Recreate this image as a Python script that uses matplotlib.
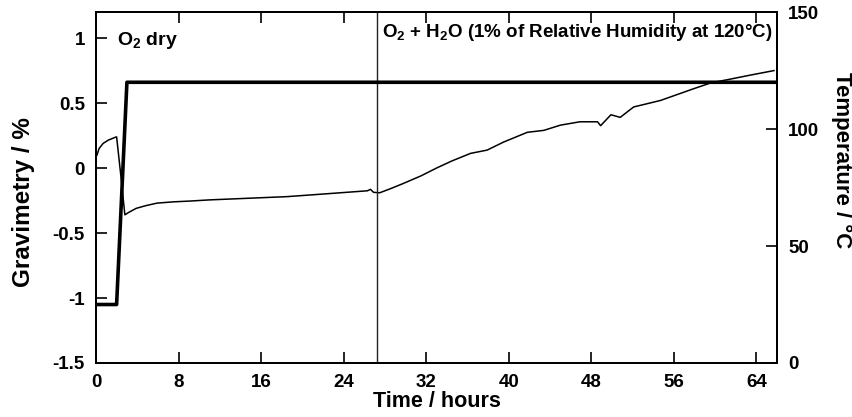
import matplotlib
matplotlib.use('Agg')
import matplotlib.pyplot as plt

plt.rcParams['font.family'] = ['Liberation Sans', 'DejaVu Sans']
plt.rcParams['font.weight'] = 'bold'
plt.rcParams['mathtext.fontset'] = 'custom'
plt.rcParams['mathtext.rm'] = 'Liberation Sans:bold'
plt.rcParams['mathtext.it'] = 'Liberation Sans:bold'
plt.rcParams['mathtext.bf'] = 'Liberation Sans:bold'
plt.rcParams['mathtext.default'] = 'rm'

# gravimetry curve (thin line)
time_g = [0.1, 0.3, 0.7, 1.2, 1.85, 2.0, 2.4, 2.8, 3.2, 3.9, 4.8, 5.9, 7.5, 9.1, 11.0,
          14.0, 18.5, 22.0, 26.3, 26.6, 26.9, 27.5, 28.5, 29.8, 31.5, 33.0, 34.5,
          36.3, 37.9, 39.5, 41.8, 43.4, 45.0, 46.9, 48.6, 48.9, 49.9, 50.8, 52.1,
          54.7, 57.9, 59.6, 61.2, 63.4, 65.7]
grav = [0.10, 0.15, 0.19, 0.215, 0.236, 0.24, -0.05, -0.36, -0.34, -0.31, -0.29, -0.27,
        -0.26, -0.254, -0.245, -0.235, -0.22, -0.20, -0.175, -0.164, -0.187, -0.19,
        -0.16, -0.118, -0.06, 0.0, 0.055, 0.113, 0.138, 0.20, 0.275, 0.29, 0.33,
        0.356, 0.356, 0.326, 0.41, 0.39, 0.47, 0.52, 0.61, 0.656, 0.68, 0.715, 0.75]

# temperature program (thick line)
time_T = [0, 2.0, 3.0, 66]
temp = [25, 25, 120, 120]

switch_time = 27.25

fig = plt.figure(figsize=(8.53, 4.17), dpi=100)
ax = fig.add_axes([0.1125, 0.1295, 0.7985, 0.8415])
ax2 = ax.twinx()

ax.plot(time_g, grav, color='black', lw=1.1)
ax.axvline(switch_time, color='#222222', lw=1.0)
ax2.plot(time_T, temp, color='black', lw=2.6)

ax.set_xlim(0, 66)
ax.set_ylim(-1.5, 1.2)
ax2.set_ylim(0, 150)

ax.set_xticks(range(0, 65, 8))
ax.set_yticks([-1.5, -1, -0.5, 0, 0.5, 1])
ax.set_yticklabels(['-1.5', '-1', '-0.5', '0', '0.5', '1'])
ax2.set_yticks([0, 50, 100, 150])

ax.tick_params(axis='x', direction='in', length=8, width=1.2, top=True, labelsize=13.5, pad=8)
ax.tick_params(axis='y', direction='in', length=8, width=1.2, labelsize=13.5, pad=8)
ax2.tick_params(axis='y', direction='in', length=8, width=1.2, labelsize=13.5, pad=8)

for a in (ax, ax2):
    for s in a.spines.values():
        s.set_linewidth(1.4)

ax.set_xlabel('Time / hours', fontsize=15.5, fontweight='bold', labelpad=0)

# axis titles placed by hand, they sit off-centre in the original
fig.text(0.027, 0.516, 'Gravimetry / %', fontsize=17.5, fontweight='bold',
         rotation=90, ha='center', va='center')
fig.text(0.986, 0.616, 'Temperature / °C', fontsize=16, fontweight='bold',
         rotation=270, ha='center', va='center')

ax.text(2.0, 0.95, 'O$_2$ dry', fontsize=14, fontweight='bold', va='baseline')
ax.text(27.7, 1.01, 'O$_2$ + H$_2$O (1% of Relative Humidity at 120°C)',
        fontsize=13.5, fontweight='bold', va='baseline')

fig.savefig('out.png', dpi=100)
